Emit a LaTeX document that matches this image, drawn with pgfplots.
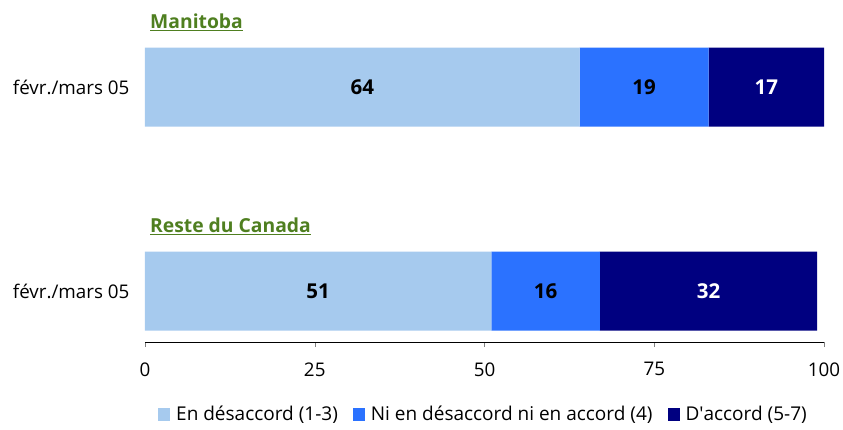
\documentclass[border=0pt]{standalone}
\usepackage{fontspec}
\setmainfont{Open Sans}
\usepackage{pgfplots}
\pgfplotsset{compat=1.18}
\definecolor{c1}{RGB}{166,202,238}
\definecolor{c2}{RGB}{43,114,255}
\definecolor{c3}{RGB}{0,0,128}
\definecolor{ttl}{RGB}{79,127,32}

\begin{document}
\begin{tikzpicture}
\useasboundingbox (-145pt,-87pt) rectangle (698pt,342pt);
\begin{axis}[
    at={(0,0)}, anchor=south west,
    scale only axis, width=679pt, height=316pt,
    xbar stacked, bar width=79pt,
    xmin=0, xmax=100, ymin=-0.25, ymax=1.3,
    xtick={0,25,50,75,100},
    ytick={0,1}, yticklabels={févr./mars 05, févr./mars 05},
    axis x line*=bottom, axis y line*=left,
    y axis line style={draw=none}, ytick style={draw=none},
    xtick align=outside, major tick length=5pt,
    tick label style={font=\fontsize{18.8}{22}\selectfont},
    yticklabel style={xshift=-12pt},
    xticklabel style={yshift=-12pt},
    /pgf/number format/assume math mode=true,
    clip=false,
    visualization depends on=rawx \as \rawx,
    nodes near coords={\pgfmathprintnumber{\rawx}},
    every node near coord/.append style={font=\bfseries\fontsize{20.5}{24}\selectfont,
        anchor=center},
    legend style={at={(0.4985,0)}, anchor=center, yshift=-72pt, draw=none,
        legend columns=-1, font=\fontsize{19}{22}\selectfont,
        /tikz/every odd column/.append style={column sep=4pt},
        /tikz/every even column/.append style={column sep=13pt}},
    legend image code/.code={\fill[#1] (0pt,-6.5pt) rectangle (12pt,6.5pt);},
]
\addplot[fill=c1, draw=none] coordinates {(51,0) (64,1)};
\addplot[fill=c2, draw=none] coordinates {(16,0) (19,1)};
\addplot[fill=c3, draw=none, every node near coord/.append style={text=white}] coordinates {(32,0) (17,1)};
\legend{En désaccord (1-3), Ni en désaccord ni en accord (4), D\textquotesingle accord (5-7)}

\node[anchor=base west, inner sep=0pt, text=ttl, font=\bfseries\fontsize{19.3}{23}\selectfont]
    at (axis cs:0.74,1.289) {\underline{Manitoba}};
\node[anchor=base west, inner sep=0pt, text=ttl, font=\bfseries\fontsize{19.3}{23}\selectfont]
    at (axis cs:0.74,0.289) {\underline{Reste du Canada}};
\end{axis}
\end{tikzpicture}
\end{document}
